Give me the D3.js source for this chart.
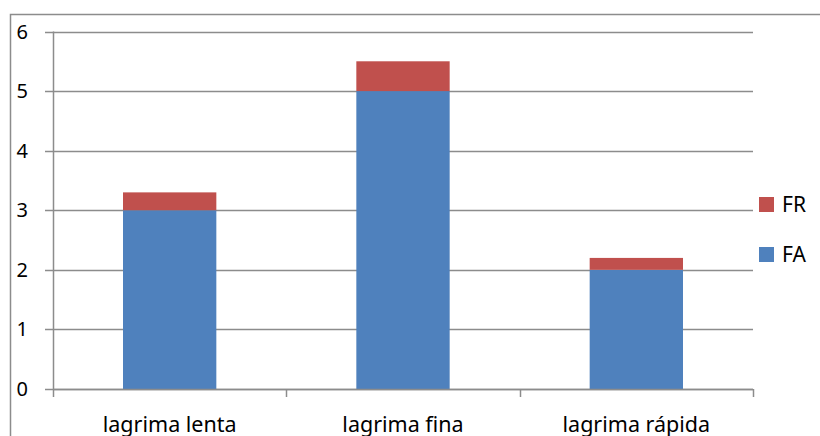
<!DOCTYPE html>
<html><head><meta charset="utf-8">
<script src="https://cdn.jsdelivr.net/npm/d3@7"></script>
<style>body{margin:0;background:#fff}svg{display:block}</style>
</head><body>
<svg id="c" width="820" height="436"></svg>
<script>
const categories = ["lagrima lenta", "lagrima fina", "lagrima rápida"];
const seriesNames = ["FA", "FR"];
const faValues = [3, 5, 2];
const frValues = [0.3, 0.5, 0.2];
const yTicks = [0, 1, 2, 3, 4, 5, 6];
const colors = {FA: "#4F81BD", FR: "#C0504D"};

const svg = d3.select("#c");
const font = "'Noto Sans', 'Open Sans', sans-serif";
const grid = "#8c8c8c";

// outer border
svg.append("rect").attr("x", 10.5).attr("y", 14.5).attr("width", 830).attr("height", 450)
  .attr("fill", "none").attr("stroke", grid).attr("stroke-width", 1.5);

const pLeft = 53, pRight = 753, pTop = 31.5, pBottom = 389;
const x = d3.scaleBand().domain(categories).range([pLeft, pRight]).paddingInner(0.6).paddingOuter(0.3);
const xb = d3.scaleBand().domain(categories).range([pLeft, pRight]);
const y = d3.scaleLinear().domain([0, 6]).range([pBottom, pTop]);

const data = categories.map((c, i) => ({cat: c, FA: faValues[i], FR: frValues[i]}));
const stacked = d3.stack().keys(seriesNames)(data);

// gridlines
svg.append("g").selectAll("line").data(yTicks).join("line")
  .attr("x1", pLeft - 8).attr("x2", pRight)
  .attr("y1", d => Math.round(y(d)) + 0.5).attr("y2", d => Math.round(y(d)) + 0.5)
  .attr("stroke", grid).attr("stroke-width", 1.5);

// bars
svg.append("g").selectAll("g").data(stacked).join("g")
  .attr("fill", d => colors[d.key])
  .selectAll("rect").data(d => d).join("rect")
  .attr("x", d => x(d.data.cat)).attr("width", x.bandwidth())
  .attr("y", d => y(d[1])).attr("height", d => y(d[0]) - y(d[1]));

// y axis line
svg.append("line").attr("x1", pLeft + 0.5).attr("x2", pLeft + 0.5).attr("y1", pTop).attr("y2", pBottom)
  .attr("stroke", grid).attr("stroke-width", 1.5);
// x axis line and ticks
svg.append("line").attr("x1", pLeft).attr("x2", pRight).attr("y1", pBottom + 0.5).attr("y2", pBottom + 0.5)
  .attr("stroke", grid).attr("stroke-width", 1.5);
const bounds = [pLeft].concat(categories.map(c => xb(c) + xb.bandwidth()));
svg.append("g").selectAll("line").data(bounds).join("line")
  .attr("x1", d => Math.round(d) + 0.5).attr("x2", d => Math.round(d) + 0.5)
  .attr("y1", pBottom).attr("y2", pBottom + 8)
  .attr("stroke", grid).attr("stroke-width", 1.5);

// y labels
svg.append("g").selectAll("text").data(yTicks).join("text")
  .attr("x", 28).attr("y", d => y(d) + 7)
  .attr("text-anchor", "end").attr("font-family", font).attr("font-size", 20)
  .text(d => d);

// x labels
svg.append("g").selectAll("text").data(categories).join("text")
  .attr("x", d => xb(d) + xb.bandwidth() / 2).attr("y", 432)
  .attr("text-anchor", "middle").attr("font-family", font).attr("font-size", 21.5)
  .text(d => d);

// legend
const legendItems = ["FR", "FA"];
const lg = svg.append("g").selectAll("g").data(legendItems).join("g")
  .attr("transform", (d, i) => `translate(759, ${197 + i * 50})`);
lg.append("rect").attr("width", 15).attr("height", 15).attr("fill", d => colors[d]);
lg.append("text").attr("x", 23).attr("y", 15).attr("font-family", font).attr("font-size", 21).text(d => d);
</script>
</body></html>
